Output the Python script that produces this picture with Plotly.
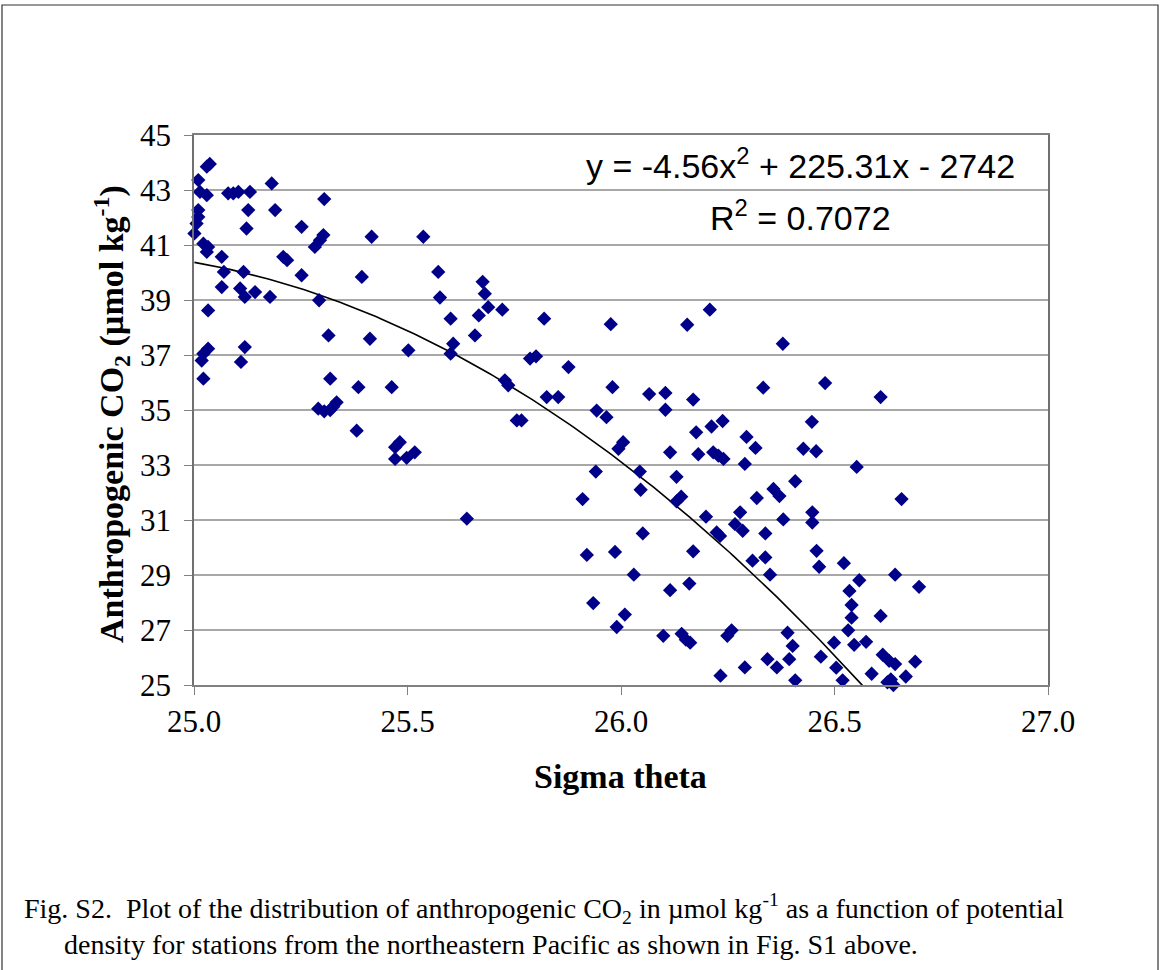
import numpy as np
import plotly.graph_objects as go

# ---- data ----
SIGMA_THETA = [
    25.030, 25.037, 25.010, 25.014, 25.030, 25.010, 25.010, 25.006, 25.001, 25.022,
    25.033, 25.030, 25.065, 25.070, 25.065, 25.033, 25.033, 25.022, 25.018, 25.022,
    25.080, 25.092, 25.104, 25.131, 25.127, 25.123, 25.116, 25.108, 25.119, 25.143,
    25.178, 25.182, 25.190, 25.252, 25.209, 25.218, 25.252, 25.283, 25.295, 25.303,
    25.305, 25.293, 25.315, 25.319, 25.334, 25.291, 25.305, 25.319, 25.326, 25.393,
    25.416, 25.412, 25.385, 25.463, 25.110, 25.119, 25.381,
    25.471, 25.482, 25.498, 25.517, 25.471,
    25.537, 25.572, 25.576, 25.601, 25.607, 25.601, 25.502, 25.676, 25.681, 25.689,
    25.667, 25.658, 25.722, 25.820, 25.787, 25.801, 25.877, 25.728, 25.736, 25.826,
    25.853, 25.756, 25.767, 25.639, 25.943, 25.966, 25.980, 25.976, 26.005, 25.994,
    25.941, 25.910, 26.044, 26.046, 26.066, 26.104, 26.104, 26.115, 26.130, 26.141,
    26.130,
    26.155, 26.208, 26.169, 26.176, 26.181, 26.212, 26.238, 26.216, 26.228, 26.240,
    26.294, 26.315, 26.290, 26.318, 26.357, 26.371, 26.408, 26.333, 26.379, 26.447,
    26.427, 26.457,
    26.478, 26.608, 26.552, 26.657,
    26.448, 26.448, 26.458, 26.464, 26.522, 26.558, 26.535, 26.540, 26.540, 26.532,
    26.499, 26.468, 26.546, 26.574, 26.504, 26.519, 26.608, 26.642, 26.698, 26.587,
    26.613, 26.628, 26.642, 26.689, 26.667, 26.624, 26.638, 26.632,
    26.199, 26.224, 26.232, 26.279, 26.267, 26.285, 26.338, 26.380, 26.051, 25.920,
    25.986, 26.030, 26.169, 26.115, 26.160, 26.308, 26.338, 26.349, 25.935, 26.009,
    25.990, 26.099, 26.142, 26.162, 26.152, 26.259, 26.249, 26.233, 26.290, 26.343,
    26.365, 26.390, 26.402, 26.394, 26.408,
]
ANTHRO_CO2 = [
    43.85, 43.95, 43.36, 42.93, 42.81, 42.27, 42.02, 41.78, 41.42, 41.05,
    40.93, 40.75, 40.57, 40.02, 39.47, 38.62, 37.23, 37.05, 36.80, 36.14,
    42.88, 42.88, 42.93, 42.93, 42.27, 41.60, 40.02, 39.42, 39.11, 39.29,
    39.11, 43.24, 42.27, 41.66, 40.57, 40.45, 39.90, 40.93, 41.17, 41.36,
    42.67, 38.99, 37.71, 36.14, 35.28, 35.05, 34.95, 35.00, 35.12, 39.84,
    41.30, 37.59, 35.83, 35.83, 36.75, 37.29, 34.25,
    33.65, 33.83, 33.26, 33.46, 33.22,
    41.30, 40.02, 39.09, 38.32, 37.41, 37.05, 37.17, 39.66, 39.23, 38.74,
    38.44, 37.71, 38.65, 38.32, 36.87, 36.95, 36.56, 36.08, 35.90, 35.47,
    35.47, 34.62, 34.62, 31.05, 34.98, 34.74, 35.83, 38.12, 33.83, 33.59,
    32.76, 31.76, 32.76, 32.10, 35.58, 35.62, 35.01, 33.46, 32.57, 31.85,
    31.68,
    38.10, 38.65, 35.38, 34.19, 33.39, 34.40, 34.60, 33.46, 33.34, 33.22,
    34.02, 33.62, 33.04, 31.80, 32.13, 31.87, 32.41, 35.81, 37.41, 34.57,
    33.59, 33.50,
    35.98, 35.47, 32.93, 31.76,
    31.28, 30.91, 29.88, 29.30, 29.43, 28.81, 28.42, 27.91, 27.45, 26.99,
    26.54, 26.03, 26.46, 26.57, 25.63, 25.17, 27.51, 29.01, 28.57, 25.41,
    26.10, 25.88, 25.76, 25.85, 25.31, 25.10, 25.00, 25.20,
    31.12, 30.55, 30.42, 31.28, 30.85, 30.61, 30.51, 31.02, 30.51, 29.73,
    29.84, 29.01, 29.86, 28.45, 28.69, 29.52, 29.64, 29.01, 27.98, 27.56,
    27.11, 26.79, 26.86, 26.54, 26.65, 26.99, 26.79, 25.34, 25.64, 25.94,
    25.64, 26.90, 26.42, 25.94, 25.17,
]

# polynomial trendline coefficients (x^2, x, const) as displayed on the chart
TREND_COEF = [-4.56, 225.31, -2742.38]
EQUATION_TEXT = "y = -4.56x<sup>2</sup> + 225.31x - 2742"
R2_TEXT = "R<sup>2</sup> = 0.7072"

X_TICKS = [25.0, 25.5, 26.0, 26.5, 27.0]
X_TICK_LABELS = ["25.0", "25.5", "26.0", "26.5", "27.0"]
Y_TICKS = [25, 27, 29, 31, 33, 35, 37, 39, 41, 43, 45]

X_TITLE = "<b>Sigma theta</b>"
Y_TITLE = "<b>Anthropogenic CO<sub>2</sub> (µmol kg<sup>-1</sup>)</b>"
CAPTION_1 = ("Fig. S2.\u00a0 Plot of the distribution of anthropogenic CO<sub>2</sub> "
             "in µmol kg<sup>-1</sup> as a function of potential")
CAPTION_2 = "density for stations from the northeastern Pacific as shown in Fig. S1 above."

# ---- figure ----
W, H = 1161, 970
L, R, T, B = 194, 1048, 135, 685
pw, ph = R - L, B - T


def px(x):
    return (x - L) / pw


def py(y):
    return (B - y) / ph


SERIF = "Liberation Serif, Times New Roman, serif"
SANS = "Liberation Sans, Arial, sans-serif"

xs_tr = np.linspace(min(SIGMA_THETA), max(SIGMA_THETA), 200)
ys_tr = np.polyval(TREND_COEF, xs_tr)

fig = go.Figure()
fig.add_trace(go.Scatter(
    x=xs_tr, y=ys_tr, mode="lines",
    line=dict(color="black", width=1.6),
    hoverinfo="skip", showlegend=False,
))
fig.add_trace(go.Scatter(
    x=SIGMA_THETA, y=ANTHRO_CO2, mode="markers",
    marker=dict(symbol="diamond", size=11, color="#000088",
                line=dict(width=0)),
    cliponaxis=False, showlegend=False,
))

fig.update_layout(
    width=W, height=H,
    margin=dict(l=L, r=W - R, t=T, b=H - B, pad=0),
    paper_bgcolor="white", plot_bgcolor="white",
    showlegend=False,
    font=dict(family=SERIF, color="black"),
    xaxis=dict(
        range=[25.0, 27.0], tickvals=X_TICKS, ticktext=X_TICK_LABELS,
        showgrid=False, zeroline=False,
        showline=True, linecolor="#808080", linewidth=1.5, mirror=True,
        ticks="outside", ticklen=8, tickcolor="#808080", tickwidth=1.2,
        tickfont=dict(family=SERIF, size=31, color="black"),
        ticklabelstandoff=0,
    ),
    yaxis=dict(
        range=[25, 45], tickvals=Y_TICKS,
        showgrid=True, gridcolor="#a8a8a8", gridwidth=1.5, zeroline=False,
        showline=True, linecolor="#707070", linewidth=1.5, mirror=True,
        ticks="outside", ticklen=8, tickcolor="#808080", tickwidth=1.2,
        tickfont=dict(family=SERIF, size=31, color="black"),
        ticklabelstandoff=7,
    ),
)

annotations = [
    dict(text=EQUATION_TEXT, x=px(800), y=py(163), xref="paper", yref="paper",
         xanchor="center", yanchor="middle", showarrow=False,
         font=dict(family=SANS, size=34, color="black")),
    dict(text=R2_TEXT, x=px(800), y=py(216), xref="paper", yref="paper",
         xanchor="center", yanchor="middle", showarrow=False,
         font=dict(family=SANS, size=34, color="black")),
    dict(text=X_TITLE, x=px(620), y=py(776), xref="paper", yref="paper",
         xanchor="center", yanchor="middle", showarrow=False,
         font=dict(family=SERIF, size=34, color="black")),
    dict(text=Y_TITLE, x=px(111), y=py(414), xref="paper", yref="paper",
         xanchor="center", yanchor="middle", showarrow=False, textangle=-90,
         font=dict(family=SERIF, size=34, color="black")),
    dict(text=CAPTION_1, x=px(22), y=py(908), xref="paper", yref="paper",
         xanchor="left", yanchor="middle", showarrow=False,
         font=dict(family=SERIF, size=28, color="black")),
    dict(text=CAPTION_2, x=px(62), y=py(944), xref="paper", yref="paper",
         xanchor="left", yanchor="middle", showarrow=False,
         font=dict(family=SERIF, size=28, color="black")),
]
fig.update_layout(annotations=annotations)

fig.add_shape(type="rect", xref="paper", yref="paper",
              x0=px(2), x1=px(1158), y0=py(975), y1=py(5),
              line=dict(color="#333333", width=1.2), fillcolor="rgba(0,0,0,0)",
              layer="below")

fig.write_html("out.html")
